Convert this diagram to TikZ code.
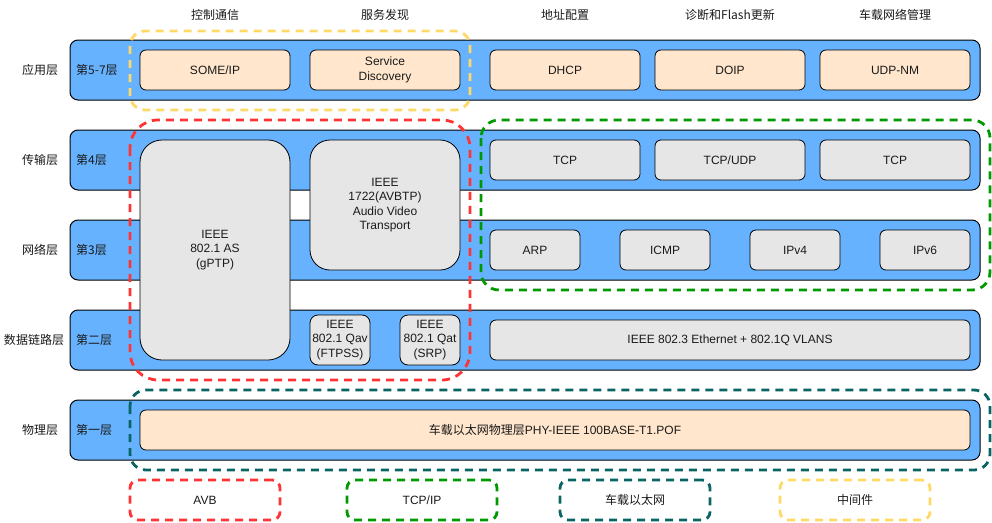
\documentclass[tikz,border=0pt]{standalone}
\usepackage{fontspec}
\setmainfont{Liberation Sans}
\newfontfamily\cjk{Noto Sans CJK SC}
\usepackage{xcolor}
\usepackage{tikz}

\definecolor{barblue}{HTML}{66B2FF}
\definecolor{peach}{HTML}{FFE6CC}
\definecolor{lightgrey}{HTML}{E6E6E6}
\definecolor{avbred}{HTML}{FF3333}
\definecolor{ipgreen}{HTML}{009900}
\definecolor{ethteal}{HTML}{0B6464}
\definecolor{midyellow}{HTML}{FFD966}
\definecolor{txt}{HTML}{1A1A1A}

\tikzset{
    every node/.style={font=\fontsize{12}{14.5}\selectfont, text=txt, align=center, inner sep=0pt},
    cnlabel/.style={font=\cjk\fontsize{12}{14.5}\selectfont},
    layerbar/.style={draw=black, fill=barblue, line width=1pt, rounded corners=8pt,
        minimum width=910pt, minimum height=60pt},
    peachbox/.style={draw=black, fill=peach, line width=0.8pt, rounded corners=6pt},
    greybox/.style={draw=black, fill=lightgrey, line width=0.8pt, rounded corners=6pt},
    groupline/.style={line width=2.8pt, dash pattern=on 8pt off 6pt},
}

\begin{document}
\begin{tikzpicture}[x=1pt, y=-1pt]
    \useasboundingbox (0,0) rectangle (992,522);

    % 五个协议层
    \foreach \name/\yc in {app/70, trans/160, net/250, link/340, phy/430}
        \node[layerbar] (\name) at (525,\yc) {};

    % 左侧层名
    \node[cnlabel] (appname)   at (40,70)  {应用层};
    \node[cnlabel] (transname) at (40,160) {传输层};
    \node[cnlabel] (netname)   at (40,250) {网络层};
    \node[cnlabel] (linkname)  at (34,340) {数据链路层};
    \node[cnlabel] (phyname)   at (40,430) {物理层};

    \node[cnlabel, anchor=west] (appnum)   at (76,70)  {第5-7层};
    \node[cnlabel, anchor=west] (transnum) at (76,160) {第4层};
    \node[cnlabel, anchor=west] (netnum)   at (76,250) {第3层};
    \node[cnlabel, anchor=west] (linknum)  at (76,340) {第二层};
    \node[cnlabel, anchor=west] (phynum)   at (76,430) {第一层};

    % 顶部功能说明
    \node[cnlabel] (ctrl)  at (215,15) {控制通信};
    \node[cnlabel] (sd)    at (385,15) {服务发现};
    \node[cnlabel] (addr)  at (565,15) {地址配置};
    \node[cnlabel] (diag)  at (730,15) {诊断和Flash更新};
    \node[cnlabel] (nm)    at (895,15) {车载网络管理};

    % 应用层
    \node[peachbox, minimum width=150pt, minimum height=40pt] (someip) at (215,70) {SOME/IP};
    \node[peachbox, minimum width=150pt, minimum height=40pt] (servdisc) at (385,70) {Service\\Discovery};
    \node[peachbox, minimum width=150pt, minimum height=40pt] (dhcp) at (565,70) {DHCP};
    \node[peachbox, minimum width=150pt, minimum height=40pt] (doip) at (730,70) {DOIP};
    \node[peachbox, minimum width=150pt, minimum height=40pt] (udpnm) at (895,70) {UDP-NM};

    % AVB 协议
    \node[greybox, rounded corners=22pt, minimum width=150pt, minimum height=220pt] (gptp) at (215,250) {IEEE\\802.1 AS\\(gPTP)};
    \node[greybox, rounded corners=20pt, minimum width=150pt, minimum height=130pt] (avbtp) at (385,205) {IEEE\\1722(AVBTP)\\Audio Video\\Transport};
    \node[greybox, rounded corners=8pt, minimum width=60pt, minimum height=50pt] (qav) at (340,340) {IEEE\\802.1 Qav\\(FTPSS)};
    \node[greybox, rounded corners=8pt, minimum width=60pt, minimum height=50pt] (qat) at (430,340) {IEEE\\802.1 Qat\\(SRP)};

    % 传输层与网络层
    \node[greybox, minimum width=150pt, minimum height=40pt] (tcpa) at (565,160) {TCP};
    \node[greybox, minimum width=150pt, minimum height=40pt] (tcpudp) at (730,160) {TCP/UDP};
    \node[greybox, minimum width=150pt, minimum height=40pt] (tcpb) at (895,160) {TCP};
    \node[greybox, minimum width=90pt, minimum height=40pt] (arp) at (535,250) {ARP};
    \node[greybox, minimum width=90pt, minimum height=40pt] (icmp) at (665,250) {ICMP};
    \node[greybox, minimum width=90pt, minimum height=40pt] (ipv4) at (795,250) {IPv4};
    \node[greybox, minimum width=90pt, minimum height=40pt] (ipv6) at (925,250) {IPv6};

    % 链路层与物理层
    \node[greybox, minimum width=480pt, minimum height=40pt] (ether) at (730,340) {IEEE 802.3 Ethernet + 802.1Q VLANS};
    \node[peachbox, minimum width=830pt, minimum height=40pt] (phyline) at (555,430) {{\cjk 车载以太网物理层}PHY-IEEE 100BASE-T1.POF};

    % 虚线分组
    \draw[groupline, midyellow, rounded corners=15pt] (130,31) rectangle (470,110);
    \draw[groupline, avbred, rounded corners=28pt] (130,120) rectangle (470,380);
    \draw[groupline, ipgreen, rounded corners=18pt] (481,120) rectangle (990,290);
    \draw[groupline, ethteal, rounded corners=16pt] (130,390) rectangle (990,470);

    % 图例
    \node[groupline, draw=avbred, rounded corners=8pt, minimum width=150pt, minimum height=40pt] (legavb) at (205,500) {AVB};
    \node[groupline, draw=ipgreen, rounded corners=8pt, minimum width=150pt, minimum height=40pt] (legip) at (422,500) {TCP/IP};
    \node[groupline, draw=ethteal, rounded corners=8pt, minimum width=150pt, minimum height=40pt, cnlabel] (legeth) at (635,500) {车载以太网};
    \node[groupline, draw=midyellow, rounded corners=8pt, minimum width=150pt, minimum height=40pt, cnlabel] (legmid) at (855,500) {中间件};
\end{tikzpicture}
\end{document}
